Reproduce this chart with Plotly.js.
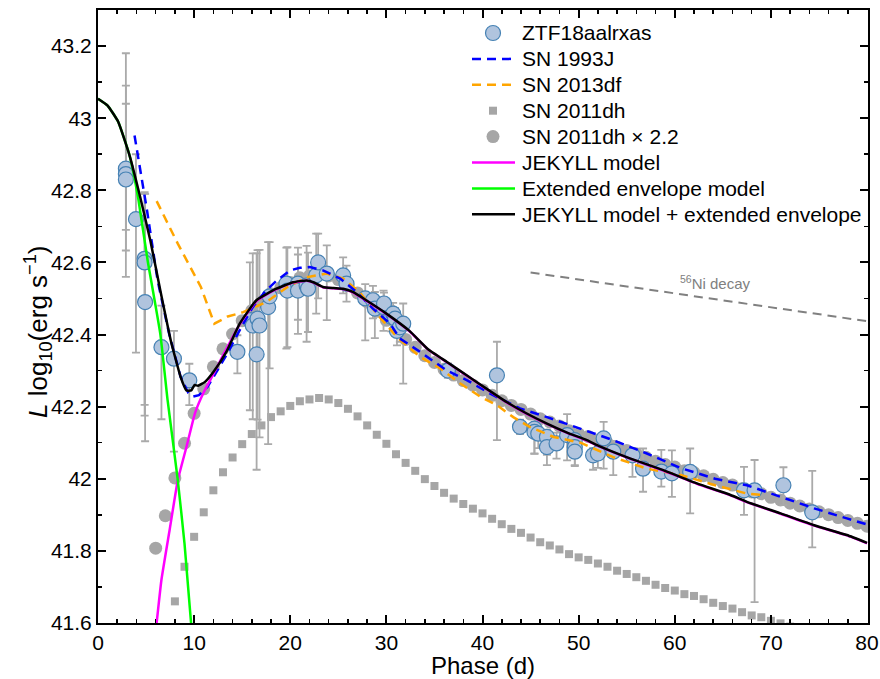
<!DOCTYPE html>
<html><head><meta charset="utf-8">
<script src="https://cdn.plot.ly/plotly-3.0.1.min.js"></script>
<style>html,body{margin:0;padding:0;background:#fff}#chart{width:880px;height:679px}</style>
</head><body><div id="chart"></div>
<script>
// ZTF18aalrxas observed bolometric light curve
const ztfPhase = [2.9,2.9,2.9,3.95,4.85,4.85,4.9,6.6,7.9,9.5,14.5,15.8,16.1,16.5,16.6,16.8,17.7,17.85,19.6,19.7,20.8,20.8,21.7,21.85,22.7,22.9,23.8,25.5,25.85,27.8,28.6,28.8,29.7,29.75,30.5,30.7,30.9,31.1,31.4,31.75,36.4,41.5,43.9,45.4,45.4,45.8,46.7,46.7,47.7,48.8,49.6,49.6,49.6,51.5,52.0,52.6,53.6,55.6,56.7,58.6,59.7,61.6,67.2,68.3,71.3,74.3];
const ztfLogL = [42.860,42.845,42.830,42.720,42.610,42.600,42.490,42.365,42.333,42.273,42.352,42.440,42.425,42.345,42.444,42.425,42.476,42.506,42.541,42.522,42.541,42.522,42.536,42.527,42.564,42.600,42.569,42.564,42.541,42.500,42.495,42.472,42.476,42.486,42.449,42.458,42.444,42.410,42.420,42.430,42.300,42.287,42.144,42.139,42.130,42.125,42.116,42.088,42.098,42.121,42.107,42.088,42.075,42.065,42.070,42.112,42.075,42.065,42.028,42.020,42.015,42.019,41.968,41.968,41.982,41.907];
const ztfErrPlus = [0.32,0.245,0.21,0.18,0.185,0.19,0.30,0.115,0.077,0.046,0.046,0.16,0.2,0.28,0.19,0.21,0.18,0.15,0.1,0.12,0.1,0.1,0.11,0.1,0.116,0.08,0.078,0.05,0.05,0.04,0.04,0.046,0.046,0.03,0.03,0.03,0.03,0.03,0.03,0.056,0.02,0.093,0.02,0.03,0.02,0.02,0.02,0.03,0.03,0.058,0.02,0.02,0.03,0.02,0.02,0.046,0.03,0.02,0.056,0.06,0.064,0.065,0.065,0.084,0.05,0.115];
const ztfErrMinus = [0.30,0.212,0.14,0.37,0.405,0.425,0.386,0.2,0.258,0.069,0.06,0.25,0.26,0.32,0.28,0.31,0.38,0.2,0.18,0.157,0.1,0.12,0.156,0.12,0.106,0.1,0.129,0.05,0.05,0.116,0.05,0.082,0.066,0.04,0.04,0.04,0.04,0.04,0.04,0.166,0.02,0.18,0.02,0.07,0.06,0.04,0.05,0.05,0.042,0.07,0.03,0.05,0.04,0.04,0.04,0.084,0.065,0.06,0.064,0.042,0.065,0.115,0.068,0.31,0.055,0.097];

// SN 1993J template
const sn1993jPhase = [3.8,5.1,6.2,7.4,8.6,9.4,9.9,10.5,11.4,12.4,13.4,14.7,16.1,17.4,18.6,20.0,21.0,22.0,23.4,25.2,26.9,28.6,30.4,31.4,33.5,36.3,38.4,40.8,43.9,46.7,50.2,53.6,57.1,60.7,64.2,67.5,71.0,74.5,77.9,80.3];
const sn1993jLogL = [42.952,42.744,42.55,42.402,42.282,42.238,42.228,42.232,42.255,42.30,42.345,42.41,42.476,42.52,42.55,42.578,42.585,42.587,42.578,42.555,42.518,42.472,42.43,42.389,42.352,42.30,42.273,42.236,42.195,42.171,42.139,42.107,42.07,42.029,42.0,41.982,41.95,41.918,41.89,41.871];

// SN 2013df template
const sn2013dfPhase = [6.1,8.3,10.7,12.1,13.5,15.1,17.5,19.6,21.7,23.8,25.5,27.2,29.0,31.1,33.5,35.6,37.7,39.8,41.5,43.2,44.9,47.4,50.2,53.6,57.1,60.7,64.2,67.5,69.2];
const sn2013dfLogL = [42.77,42.652,42.532,42.43,42.45,42.462,42.49,42.53,42.559,42.569,42.555,42.518,42.458,42.393,42.338,42.306,42.264,42.227,42.204,42.171,42.144,42.116,42.1,42.06,42.028,42.01,41.982,41.959,41.955];

// SN 2011dh
const sn2011dhPhase = [6,7,8,9,10,11,12,13,14,15,16,17,18,19,20,21,22,23,24,25,26,27,28,29,30,31,32,33,34,35,36,37,38,39,40,41,42,43,44,45,46,47,48,49,50,51,52,53,54,55,56,57,58,59,60,61,62,63,64,65,66,67,68,69,70,71,72,73,74,75,76,77,78,79,80];
const sn2011dhLogL = [41.465,41.555,41.66,41.756,41.839,41.907,41.968,42.018,42.059,42.096,42.124,42.148,42.171,42.187,42.202,42.215,42.220,42.224,42.220,42.210,42.194,42.173,42.148,42.122,42.097,42.068,42.044,42.022,41.999,41.980,41.961,41.945,41.930,41.917,41.904,41.889,41.874,41.861,41.850,41.837,41.824,41.815,41.804,41.791,41.782,41.775,41.765,41.756,41.745,41.736,41.727,41.717,41.706,41.697,41.690,41.680,41.675,41.666,41.656,41.647,41.640,41.630,41.621,41.616,41.606,41.599,41.590,41.582,41.574,41.566,41.558,41.550,41.542,41.534,41.526];
const scaleFactor2011dh = 2.2;

// Models
const jekyllPhase = [6.06,6.6,7.45,8.3,9.2,10.1,11.0,12.0,13.0,14.74,16.48,18.56,20.3,21.7,22.4,23.4,24.5,25.5,26.5,27.9,30.0,32.4,34.3,36.3,38.35,40.4,42.5,44.6,46.7,48.8,50.85,52.2,55.4,58.8,62.3,65.8,67.5,71.0,74.5,77.9,80.0];
const jekyllLogL = [41.59,41.72,41.858,41.996,42.088,42.183,42.24,42.29,42.342,42.428,42.493,42.526,42.544,42.549,42.544,42.531,42.528,42.526,42.517,42.494,42.457,42.409,42.359,42.323,42.286,42.249,42.212,42.18,42.152,42.127,42.106,42.089,42.055,42.023,41.986,41.954,41.935,41.903,41.87,41.843,41.821];

const envelopePhase = [0,1,2.1,3.3,4.2,5.16,6.48,7.24,8.3,9.0,9.7];
const envelopeLogL = [43.054,43.035,42.99,42.895,42.775,42.606,42.402,42.218,41.996,41.82,41.594];

const totalPhase = [0,1,2.1,3.3,4.4,5.45,6.5,7.6,8.6,9.2,9.7,10.05,10.4,11.1,12.0,13.35,14.74,16.48,18.56,20.3,21.7,22.4,23.4,24.5,25.5,26.5,27.9,30.0,32.4,34.3,36.3,38.35,40.4,42.5,44.6,46.7,48.8,50.85,52.2,55.4,58.8,62.3,65.8,67.5,71.0,74.5,77.9,80.0];
const totalLogL = [43.054,43.035,42.99,42.895,42.78,42.66,42.52,42.38,42.282,42.245,42.245,42.26,42.258,42.268,42.296,42.352,42.43,42.495,42.527,42.545,42.55,42.545,42.532,42.529,42.527,42.518,42.495,42.458,42.41,42.36,42.324,42.287,42.25,42.213,42.181,42.153,42.128,42.107,42.09,42.056,42.024,41.987,41.955,41.936,41.904,41.871,41.844,41.822];

// 56Ni decay slope guide
const niPhase = [45, 80];
const niLogL = [42.572, 42.437];

// Legend labels (in legend order)
const legendLabels = ['ZTF18aalrxas','SN 1993J','SN 2013df','SN 2011dh','SN 2011dh × 2.2','JEKYLL model','Extended envelope model','JEKYLL model + extended envelope'];

const grey = '#a6a6a6';
const styles = {
  ztf:{kind:'circle', size:15, fill:'#b0c4de', edge:'#4682b4'},
  s93:{kind:'line', color:'#0000ff', dash:'9px,6px'},
  s13:{kind:'line', color:'#ffa500', dash:'9px,6px'},
  s11:{kind:'square', size:8, fill:grey},
  s11x:{kind:'circle', size:13, fill:grey, edge:grey},
  jek:{kind:'line', color:'#ff00ff', dash:'solid'},
  env:{kind:'line', color:'#00ff00', dash:'solid'},
  tot:{kind:'line', color:'#000000', dash:'solid'}
};
const legendStyleOrder = ['ztf','s93','s13','s11','s11x','jek','env','tot'];

const traces = [
  {x: sn2011dhPhase, y: sn2011dhLogL, type:'scatter', mode:'markers', name:legendLabels[3], showlegend:false,
   marker:{symbol:'square', size:styles.s11.size, color:grey}},
  {x: sn2011dhPhase, y: sn2011dhLogL.map(v => v + Math.log10(scaleFactor2011dh)), type:'scatter', mode:'markers',
   name:legendLabels[4], showlegend:false, marker:{symbol:'circle', size:styles.s11x.size, color:grey}},
  {x: ztfPhase, y: ztfLogL, type:'scatter', mode:'markers', name:legendLabels[0], showlegend:false,
   marker:{symbol:'circle', size:styles.ztf.size, color:styles.ztf.fill, line:{color:styles.ztf.edge, width:1.2}},
   error_y:{type:'data', symmetric:false, array:ztfErrPlus, arrayminus:ztfErrMinus, color:'#aaaaaa', thickness:1.8, width:4}},
  {x: sn2013dfPhase, y: sn2013dfLogL, type:'scatter', mode:'lines', name:legendLabels[2], showlegend:false,
   line:{color:styles.s13.color, width:2.5, dash:styles.s13.dash}},
  {x: sn1993jPhase, y: sn1993jLogL, type:'scatter', mode:'lines', name:legendLabels[1], showlegend:false,
   line:{color:styles.s93.color, width:2.5, dash:styles.s93.dash}},
  {x: jekyllPhase, y: jekyllLogL, type:'scatter', mode:'lines', name:legendLabels[5], showlegend:false,
   line:{color:styles.jek.color, width:2.5, shape:'spline', smoothing:0.4}},
  {x: envelopePhase, y: envelopeLogL, type:'scatter', mode:'lines', name:legendLabels[6], showlegend:false,
   line:{color:styles.env.color, width:2.5, shape:'spline', smoothing:0.4}},
  {x: totalPhase, y: totalLogL, type:'scatter', mode:'lines', name:legendLabels[7], showlegend:false,
   line:{color:styles.tot.color, width:2.5, shape:'spline', smoothing:0.4}},
  {x: niPhase, y: niLogL, type:'scatter', mode:'lines', showlegend:false, hoverinfo:'skip',
   line:{color:'#808080', width:2, dash:'9px,6px'}}
];

// Custom legend (symbols as shapes, labels as annotations), placed in paper coordinates
const W = 880, H = 679, M = {l:98, r:12, t:10, b:56};
const pw = W - M.l - M.r, ph = H - M.t - M.b;
const px2x = p => (p - M.l) / pw;
const px2y = p => 1 - (p - M.t) / ph;
const legSymX = 493, legLineX0 = 472, legLineX1 = 515, legTextX = 520, legRow0 = 33, legRowStep = 25.9;

const shapes = [];
const annotations = [];
legendLabels.forEach((lab, i) => {
  const st = styles[legendStyleOrder[i]];
  const yy = px2y(legRow0 + i * legRowStep);
  if (st.kind === 'line') {
    shapes.push({type:'line', xref:'paper', yref:'paper', x0:px2x(legLineX0), x1:px2x(legLineX1), y0:yy, y1:yy,
      line:{color:st.color, width:2.5, dash:st.dash}});
  } else {
    const r = st.size / 2;
    shapes.push({type: st.kind === 'circle' ? 'circle' : 'rect', xref:'paper', yref:'paper',
      xsizemode:'pixel', ysizemode:'pixel', xanchor:px2x(legSymX), yanchor:yy,
      x0:-r, x1:r, y0:-r, y1:r, fillcolor:st.fill,
      line:{color: st.edge || st.fill, width: st.edge && st.edge !== st.fill ? 1.2 : 0}});
  }
  annotations.push({xref:'paper', yref:'paper', x:px2x(legTextX), y:yy, xanchor:'left', yanchor:'middle',
    text:lab, showarrow:false, font:{size:21, color:'black'}});
});
annotations.push({x:64.2, y:42.545, xref:'x', yref:'y', text:'<sup>56</sup>Ni decay', showarrow:false,
  font:{size:15, color:'#808080'}});
// y-axis title (placed as rotated text, slightly below the plot centre as in the reference)
annotations.push({xref:'paper', yref:'paper', x:px2x(38), y:px2y(332), xanchor:'center', yanchor:'middle',
  textangle:-90, showarrow:false, text:'<i>L</i> log<sub>10</sub>(erg s<sup>−1</sup>)', font:{size:26, color:'black'}});

const axisCommon = {
  showline:true, linecolor:'black', linewidth:2, mirror:'allticks',
  ticks:'inside', ticklen:8, tickwidth:2, tickcolor:'black',
  showgrid:false, zeroline:false,
  tickfont:{family:'Liberation Sans, Arial, sans-serif', size:21, color:'black'}
};
const layout = {
  width:W, height:H,
  margin:M,
  paper_bgcolor:'white', plot_bgcolor:'white',
  font:{family:'Liberation Sans, Arial, sans-serif', size:21, color:'black'},
  showlegend:false,
  xaxis:Object.assign({}, axisCommon, {
    range:[0,80.1], tick0:0, dtick:10,
    minor:{dtick:2, tick0:0, ticks:'inside', ticklen:4, tickwidth:1.5, tickcolor:'black', showgrid:false},
    title:{text:'Phase (d)', font:{size:24}, standoff:0}
  }),
  yaxis:Object.assign({}, axisCommon, {
    range:[41.6,43.3], tick0:41.6, dtick:0.2,
    minor:{dtick:0.1, tick0:41.6, ticks:'inside', ticklen:4, tickwidth:1.5, tickcolor:'black', showgrid:false}
  }),
  shapes: shapes,
  annotations: annotations
};
Plotly.newPlot('chart', traces, layout, {displayModeBar:false, staticPlot:true});
</script>
</body></html>
